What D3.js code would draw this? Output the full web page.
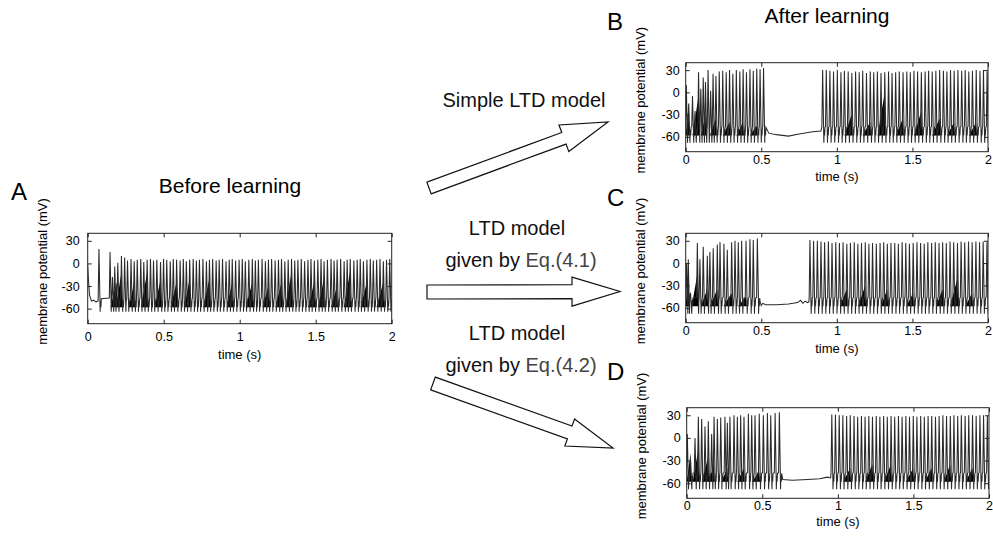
<!DOCTYPE html>
<html lang="en">
<head>
<meta charset="UTF-8">
<title>Membrane potential before and after learning</title>
<script src="https://d3js.org/d3.v7.min.js"></script>
<style>
  body { margin: 0; background: #fff; }
  svg { display: block; font-family: "Liberation Sans", Arial, sans-serif; }
</style>
</head>
<body>
<div id="chart"></div>
<script>
// axis ticks shared by all four traces
const timeTicks = [0, 0.5, 1, 1.5, 2];
const potentialTicks = [30, 0, -30, -60];

// spikes: [time (s), peak (mV)]
const spikesA = [[0.074,19],[0.147,15],[0.163,-18],[0.178,-4],[0.198,1],[0.222,10],[0.243,8],[0.262,4],[0.285,6],[0.306,3],
  [0.326,5],[0.349,6],[0.369,2],[0.391,5],[0.413,6],[0.433,4],[0.455,5],[0.479,2],[0.499,6],[0.52,5],[0.543,3],[0.563,6],
  [0.585,5],[0.608,4],[0.629,6],[0.649,3],[0.671,5],[0.694,6],[0.715,4],[0.735,5],[0.758,6],[0.781,3],[0.801,5],[0.822,6],
  [0.845,4],[0.865,5],[0.887,6],[0.91,3],[0.931,5],[0.951,6],[0.973,4],[0.996,5],[1.017,6],[1.037,3],[1.06,5],[1.083,6],
  [1.103,4],[1.123,5],[1.147,6],[1.169,3],[1.189,5],[1.21,6],[1.233,4],[1.255,5],[1.275,6],[1.297,3],[1.319,5],[1.341,6],
  [1.362,4],[1.383,5],[1.405,6],[1.427,3],[1.449,5],[1.469,6],[1.491,4],[1.514,5],[1.535,6],[1.555,3],[1.577,5],[1.601,6],
  [1.621,4],[1.641,5],[1.664,6],[1.687,3],[1.707,5],[1.727,6],[1.751,4],[1.773,5],[1.793,6],[1.814,3],[1.837,5],[1.859,6],
  [1.879,4],[1.901,5],[1.923,6],[1.945,3],[1.966,5],[1.987,6]];
const spikesB = [[0.004,10],[0.02,-15],[0.045,-5],[0.062,-25],[0.085,27],[0.1,5],[0.116,20],[0.131,14],[0.148,30],[0.165,2],
  [0.181,25],[0.2,22],[0.222,28],[0.245,29],[0.268,27],[0.29,30],[0.312,25],[0.335,30],[0.358,28],[0.38,31],[0.402,27],
  [0.425,31],[0.447,29],[0.47,32],[0.492,31],[0.515,33],
  [0.906,30],[0.93,30],[0.954,29],[0.978,28],[1.003,30],[1.027,27],[1.05,29],[1.075,28],[1.099,26],[1.124,28],[1.148,27],
  [1.171,29],[1.196,26],[1.221,28],[1.244,27],[1.268,28],[1.292,26],[1.317,27],[1.342,28],[1.365,26],[1.389,27],[1.413,28],
  [1.438,27],[1.463,28],[1.486,27],[1.51,29],[1.534,28],[1.559,27],[1.584,28],[1.607,29],[1.631,28],[1.655,29],[1.68,30],
  [1.705,29],[1.728,28],[1.752,30],[1.776,29],[1.801,30],[1.826,29],[1.849,30],[1.873,28],[1.897,29],[1.922,30],[1.947,29],
  [1.97,30],[1.994,28]];
const spikesC = [[0.006,0],[0.017,5],[0.032,-40],[0.077,27],[0.094,5],[0.116,22],[0.143,10],[0.16,15],[0.182,20],[0.209,25],
  [0.227,28],[0.253,26],[0.275,18],[0.304,28],[0.326,30],[0.348,28],[0.37,30],[0.399,30],[0.425,32],[0.447,31],[0.474,33],
  [0.822,31],[0.846,30],[0.871,30],[0.895,29],[0.919,28],[0.944,29],[0.968,27],[0.993,28],[1.017,27],[1.041,28],[1.066,26],
  [1.09,27],[1.115,28],[1.139,26],[1.163,27],[1.188,28],[1.212,26],[1.236,27],[1.261,26],[1.286,27],[1.31,28],[1.334,26],
  [1.358,27],[1.383,27],[1.407,26],[1.432,28],[1.456,27],[1.48,26],[1.505,27],[1.53,28],[1.554,27],[1.578,26],[1.602,28],
  [1.627,27],[1.651,28],[1.676,27],[1.7,28],[1.724,27],[1.749,29],[1.773,28],[1.798,27],[1.822,29],[1.846,28],[1.871,29],
  [1.895,28],[1.92,29],[1.944,28],[1.968,29],[1.993,28]];
const spikesD = [[0.004,5],[0.026,-30],[0.055,0],[0.077,28],[0.099,25],[0.121,15],[0.143,22],[0.165,5],[0.181,28],[0.203,25],
  [0.225,27],[0.253,28],[0.269,20],[0.286,28],[0.313,30],[0.335,28],[0.357,30],[0.379,28],[0.408,32],[0.43,30],[0.452,30],
  [0.48,32],[0.507,30],[0.534,33],[0.556,30],[0.585,33],[0.613,34],
  [0.96,31],[0.984,31],[1.009,30],[1.033,30],[1.058,29],[1.082,30],[1.107,29],[1.131,28],[1.156,29],[1.18,28],[1.205,29],
  [1.229,28],[1.254,29],[1.278,28],[1.303,29],[1.327,28],[1.352,29],[1.376,28],[1.401,29],[1.425,28],[1.45,29],[1.474,28],
  [1.499,29],[1.523,28],[1.548,29],[1.572,28],[1.597,29],[1.621,29],[1.646,28],[1.67,29],[1.695,30],[1.719,29],[1.744,29],
  [1.768,30],[1.793,29],[1.817,30],[1.842,29],[1.866,30],[1.891,30],[1.915,29],[1.94,30],[1.964,30],[1.989,29]];

// sub-threshold stretches with no spikes: [time (s), mV]
const restA = [[0,-2],[0.005,-22],[0.012,-42],[0.025,-50],[0.04,-49],[0.055,-51],[0.068,-50]];
const restB = [[0.524,-55],[0.55,-55],[0.6,-57],[0.68,-59],[0.75,-56],[0.84,-53],[0.895,-52]];
const restC = [[0.482,-56],[0.492,-52],[0.5,-57],[0.51,-54],[0.53,-56],[0.6,-56],[0.68,-55],[0.74,-53],[0.76,-50],
  [0.775,-54],[0.79,-51],[0.805,-53],[0.815,-52]];
const restD = [[0.622,-57],[0.635,-55],[0.7,-56],[0.8,-55],[0.88,-54],[0.93,-52],[0.952,-53]];

// dense bursts of small events: [start (s), end (s), top (mV)]
const burstsA = [[0.15,0.19,-25],[0.185,0.222,-12],[0.27,0.306,-25],[0.35,0.391,-12],[0.44,0.479,-22],[0.545,0.585,-25],
  [0.635,0.671,-20],[0.76,0.801,-20],[0.915,0.951,-25],[1.04,1.083,-25],[1.15,1.189,-30],[1.235,1.275,-25],[1.3,1.341,-12],
  [1.45,1.491,-25],[1.515,1.555,-20],[1.6,1.641,-30],[1.685,1.727,-10],[1.795,1.837,-25],[1.9,1.945,-25]];
const burstsB = [[0,0.02,-15],[0.045,0.085,-5],[0.1,0.131,-30],[0.16,0.2,-35],[0.245,0.29,-40],[0.335,0.38,-40],
  [0.425,0.47,-45],[1.05,1.099,-30],[1.17,1.221,-40],[1.27,1.317,0],[1.39,1.438,-35],[1.51,1.559,-25],[1.63,1.68,-35],
  [1.73,1.776,-40],[1.875,1.922,-40]];
const burstsC = [[0,0.017,-10],[0.04,0.077,-15],[0.1,0.143,-35],[0.16,0.209,-35],[0.25,0.304,-40],[0.345,0.399,-45],
  [1.02,1.066,-35],[1.14,1.188,-30],[1.29,1.334,-35],[1.46,1.505,-40],[1.655,1.7,-35],[1.75,1.798,-20],[1.85,1.895,-40]];
const burstsD = [[0,0.026,-20],[0.04,0.077,-15],[0.1,0.143,-25],[0.145,0.181,-35],[0.23,0.269,-40],[0.335,0.379,-40],
  [0.43,0.48,-45],[1.035,1.082,-40],[1.18,1.229,-35],[1.305,1.352,-35],[1.45,1.499,-40],[1.575,1.621,-40],[1.7,1.744,-35],
  [1.845,1.891,-40]];

const W = 993, H = 540;
const svg = d3.select("#chart").append("svg").attr("width", W).attr("height", H);

const panels = [
  { letter: "A", spikes: spikesA, rest: restA, bursts: burstsA, trough: -64,
    box: [87.7, 233.3, 304, 90.4], yPad: 8, xPad: 8, timeDy: 35, letterAt: [11, 200] },
  { letter: "B", spikes: spikesB, rest: restB, bursts: burstsB, trough: -68,
    box: [685.7, 62.7, 302.3, 89], yPad: 6, xPad: 3, timeDy: 29, letterAt: [607, 30] },
  { letter: "C", spikes: spikesC, rest: restC, bursts: burstsC, trough: -68,
    box: [685.7, 233.3, 302.3, 89.4], yPad: 6, xPad: 3, timeDy: 30, letterAt: [607, 206] },
  { letter: "D", spikes: spikesD, rest: restD, bursts: burstsD, trough: -68,
    box: [686.7, 407.7, 302.3, 90.6], yPad: 6, xPad: 3, timeDy: 28, letterAt: [607, 380] }
];

// one trace = rest points + a spike shape (upstroke, peak, downstroke, after-wobble) at each spike time
function tracePoints(p) {
  const pts = p.rest.map(d => [d[0], d[1]]);
  p.spikes.forEach((s, i) => {
    const t = s[0];
    const next = i < p.spikes.length - 1 ? p.spikes[i + 1][0] : 2.02;
    pts.push([t - 0.005, -46], [t, s[1]], [t + 0.008, p.trough]);
    [[0.0105, -50], [0.013, -58], [0.0155, -47]].forEach(([dt, v]) => {
      if (t + dt < next - 0.006) pts.push([t + dt, v]);
    });
  });
  return pts.sort((a, b) => a[0] - b[0]);
}

panels.forEach(p => {
  const [left, top, w, h] = p.box;
  const x = d3.scaleLinear().domain([0, 2]).range([0, w]);
  const y = d3.scaleLinear().domain([-80, 40]).range([h, 0]);
  const g = svg.append("g").attr("transform", `translate(${left},${top})`);

  g.append("clipPath").attr("id", "clip" + p.letter)
    .append("rect").attr("width", w).attr("height", h);
  const plot = g.append("g").attr("clip-path", `url(#clip${p.letter})`);

  plot.selectAll("path.burst")
    .data(p.bursts)
    .enter().append("path")
    .attr("class", "burst")
    .attr("d", d => d3.line()([[x(d[0]), y(-58)], [x(d[1]), y(d[2])], [x(d[1]) + 0.8, y(-58)]]) + "Z")
    .attr("fill", "#000");

  plot.append("path")
    .datum(tracePoints(p))
    .attr("d", d3.line().x(d => x(d[0])).y(d => y(d[1])))
    .attr("fill", "none")
    .attr("stroke", "#2a2a2a")
    .attr("stroke-width", 1.05);

  const style = a => {
    a.select(".domain").remove();
    a.selectAll("line").attr("stroke", "#222");
    a.selectAll("text").attr("fill", "#000").style("font-size", "12.5px")
      .style("font-family", "'Liberation Sans', Arial, sans-serif");
  };
  g.append("g").attr("transform", `translate(0,${h})`)
    .call(d3.axisBottom(x).tickValues(timeTicks).tickSize(-4).tickPadding(p.xPad).tickFormat(d => String(d)))
    .call(style);
  g.append("g")
    .call(d3.axisTop(x).tickValues(timeTicks).tickSize(-4).tickFormat(""))
    .call(style);
  g.append("g")
    .call(d3.axisLeft(y).tickValues(potentialTicks).tickSize(-4).tickPadding(p.yPad).tickFormat(d => String(d)))
    .call(style);
  g.append("g").attr("transform", `translate(${w},0)`)
    .call(d3.axisRight(y).tickValues(potentialTicks).tickSize(-4).tickFormat(""))
    .call(style);

  g.append("rect").attr("width", w).attr("height", h)
    .attr("fill", "none").attr("stroke", "#222").attr("stroke-width", 1);

  g.append("text")
    .attr("x", w / 2).attr("y", h + p.timeDy)
    .attr("text-anchor", "middle")
    .style("font-size", "13px")
    .text("time (s)");

  g.append("text")
    .attr("transform", `translate(-41,${h / 2 - 7}) rotate(-90)`)
    .attr("text-anchor", "middle")
    .style("font-size", "13px")
    .text("membrane potential (mV)");

  svg.append("text")
    .attr("x", p.letterAt[0]).attr("y", p.letterAt[1])
    .style("font-size", "24px")
    .text(p.letter);
});

// headings
svg.append("text").attr("x", 230).attr("y", 193).attr("text-anchor", "middle")
  .style("font-size", "21px").text("Before learning");
svg.append("text").attr("x", 827).attr("y", 23).attr("text-anchor", "middle")
  .style("font-size", "21px").text("After learning");

// hollow block arrows from panel A to B, C, D
const arrows = [
  { tail: [429, 188], tip: [608, 122], shaft: 6.2, head: 14.2, headLen: 47 },
  { tail: [427, 292], tip: [620, 291.5], shaft: 7, head: 14.5, headLen: 48 },
  { tail: [433, 383.5], tip: [613, 448], shaft: 6.8, head: 14.4, headLen: 46 }
];
arrows.forEach(a => {
  const dx = a.tip[0] - a.tail[0], dy = a.tip[1] - a.tail[1];
  const len = Math.hypot(dx, dy);
  const ux = dx / len, uy = dy / len, nx = -uy, ny = ux;
  const at = (s, o) => [a.tail[0] + ux * s + nx * o, a.tail[1] + uy * s + ny * o];
  const b = len - a.headLen;
  const pts = [at(0, a.shaft), at(b, a.shaft), at(b, a.head), at(len, 0),
               at(b, -a.head), at(b, -a.shaft), at(0, -a.shaft)];
  svg.append("path")
    .attr("d", d3.line()(pts) + "Z")
    .attr("fill", "#fff")
    .attr("stroke", "#111")
    .attr("stroke-width", 1.2)
    .attr("stroke-linejoin", "miter");
});

// arrow captions
const captions = [
  { x: 524, y: 107, text: "Simple LTD model", eq: "" },
  { x: 517, y: 235, text: "LTD model", eq: "" },
  { x: 521, y: 267, text: "given by ", eq: "Eq.(4.1)" },
  { x: 517, y: 340, text: "LTD model", eq: "" },
  { x: 521, y: 372, text: "given by ", eq: "Eq.(4.2)" }
];
captions.forEach(c => {
  const t = svg.append("text").attr("x", c.x).attr("y", c.y)
    .attr("text-anchor", "middle").style("font-size", "20px").attr("fill", "#111");
  t.append("tspan").text(c.text);
  if (c.eq) t.append("tspan").attr("fill", "#444").text(c.eq);
});
</script>
</body>
</html>
